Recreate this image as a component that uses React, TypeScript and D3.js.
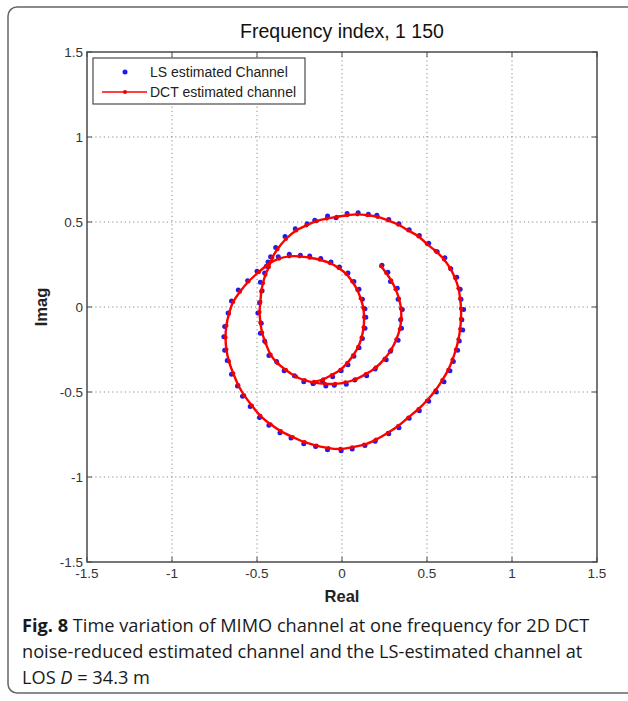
import React from "react";
import * as d3 from "d3";

const titleText = "Frequency index, 1 150";
const xLabel = "Real";
const yLabel = "Imag";
const tickValues = [-1.5, -1, -0.5, 0, 0.5, 1, 1.5];
const tickLabels = ["-1.5", "-1", "-0.5", "0", "0.5", "1", "1.5"];
const gridValues = [-1, -0.5, 0, 0.5, 1];
const legendLabels = ["LS estimated Channel", "DCT estimated channel"];

// DCT noise-reduced channel (Real, Imag) in time order
const dctPoints: [number, number][] = [
  [0.23, 0.24], [0.26, 0.2], [0.29, 0.155], [0.315, 0.105], [0.335, 0.05], [0.347, -0.01],
  [0.348, -0.07], [0.34, -0.13], [0.32, -0.19], [0.29, -0.25], [0.25, -0.305], [0.2, -0.355],
  [0.14, -0.395], [0.08, -0.425], [0.02, -0.443], [-0.04, -0.452], [-0.1, -0.452], [-0.16, -0.445],
  [-0.22, -0.43], [-0.27, -0.41], [-0.33, -0.37], [-0.38, -0.33], [-0.42, -0.28], [-0.45, -0.21],
  [-0.47, -0.15], [-0.48, -0.09], [-0.485, -0.03], [-0.48, 0.03], [-0.475, 0.09], [-0.465, 0.14],
  [-0.45, 0.19], [-0.43, 0.235], [-0.41, 0.29], [-0.38, 0.34], [-0.33, 0.4], [-0.27, 0.45],
  [-0.21, 0.48], [-0.15, 0.505], [-0.09, 0.52], [-0.03, 0.53], [0.03, 0.54], [0.09, 0.545],
  [0.15, 0.54], [0.21, 0.53], [0.27, 0.51], [0.33, 0.485], [0.39, 0.45], [0.45, 0.415],
  [0.5, 0.37], [0.55, 0.33], [0.6, 0.28], [0.635, 0.23], [0.665, 0.17], [0.685, 0.11],
  [0.695, 0.05], [0.7, -0.01], [0.7, -0.07], [0.695, -0.13], [0.685, -0.19], [0.67, -0.25],
  [0.65, -0.31], [0.625, -0.37], [0.59, -0.43], [0.55, -0.49], [0.5, -0.55], [0.45, -0.6],
  [0.39, -0.65], [0.33, -0.7], [0.27, -0.74], [0.2, -0.78], [0.13, -0.81], [0.06, -0.825],
  [-0.01, -0.835], [-0.08, -0.83], [-0.15, -0.815], [-0.22, -0.795], [-0.29, -0.765], [-0.36, -0.73],
  [-0.42, -0.69], [-0.48, -0.64], [-0.53, -0.58], [-0.575, -0.52], [-0.61, -0.46], [-0.64, -0.39],
  [-0.665, -0.32], [-0.68, -0.25], [-0.685, -0.18], [-0.68, -0.11], [-0.665, -0.04], [-0.64, 0.03],
  [-0.6, 0.09], [-0.55, 0.15], [-0.49, 0.205], [-0.43, 0.255], [-0.37, 0.285], [-0.31, 0.298],
  [-0.25, 0.298], [-0.19, 0.29], [-0.13, 0.278], [-0.07, 0.258], [-0.02, 0.23], [0.025, 0.195],
  [0.06, 0.15], [0.09, 0.1], [0.11, 0.05], [0.125, -0.005], [0.13, -0.06], [0.127, -0.12],
  [0.115, -0.18], [0.095, -0.235], [0.065, -0.285], [0.03, -0.33], [-0.01, -0.37], [-0.06, -0.4],
  [-0.11, -0.425], [-0.165, -0.44],
];

// LS estimated channel (Real, Imag) in time order
const lsPoints: [number, number][] = [
  [0.235, 0.245], [0.27, 0.205], [0.285, 0.15], [0.325, 0.11], [0.33, 0.045], [0.355, -0.015],
  [0.345, -0.075], [0.35, -0.125], [0.33, -0.195], [0.285, -0.26], [0.26, -0.31], [0.195, -0.365],
  [0.145, -0.405], [0.075, -0.43], [0.025, -0.455], [-0.045, -0.46], [-0.095, -0.465], [-0.17, -0.45],
  [-0.225, -0.44], [-0.28, -0.405], [-0.34, -0.375], [-0.385, -0.32], [-0.43, -0.285], [-0.455, -0.2],
  [-0.48, -0.155], [-0.475, -0.095], [-0.495, -0.035], [-0.485, 0.025], [-0.47, 0.095], [-0.48, 0.145],
  [-0.455, 0.2], [-0.445, 0.24], [-0.42, 0.295], [-0.39, 0.35], [-0.335, 0.415], [-0.275, 0.46],
  [-0.205, 0.49], [-0.16, 0.51], [-0.085, 0.535], [-0.035, 0.525], [0.03, 0.55], [0.095, 0.555],
  [0.155, 0.545], [0.205, 0.54], [0.275, 0.515], [0.335, 0.49], [0.395, 0.455], [0.455, 0.42],
  [0.51, 0.375], [0.56, 0.325], [0.605, 0.29], [0.64, 0.225], [0.675, 0.175], [0.695, 0.105],
  [0.7, 0.045], [0.715, -0.015], [0.705, -0.075], [0.71, -0.135], [0.69, -0.2], [0.68, -0.255],
  [0.655, -0.32], [0.635, -0.375], [0.6, -0.44], [0.555, -0.5], [0.51, -0.555], [0.455, -0.61],
  [0.395, -0.655], [0.335, -0.71], [0.275, -0.745], [0.195, -0.79], [0.135, -0.815], [0.06, -0.835],
  [-0.005, -0.845], [-0.085, -0.84], [-0.155, -0.82], [-0.225, -0.805], [-0.3, -0.77], [-0.365, -0.74],
  [-0.43, -0.695], [-0.485, -0.65], [-0.54, -0.585], [-0.585, -0.525], [-0.615, -0.465], [-0.65, -0.395],
  [-0.675, -0.315], [-0.69, -0.255], [-0.695, -0.175], [-0.69, -0.115], [-0.67, -0.035], [-0.65, 0.035],
  [-0.61, 0.1], [-0.555, 0.155], [-0.5, 0.21], [-0.435, 0.265], [-0.375, 0.295], [-0.31, 0.31],
  [-0.245, 0.305], [-0.19, 0.3], [-0.125, 0.285], [-0.065, 0.265], [-0.015, 0.235], [0.035, 0.2],
  [0.07, 0.15], [0.1, 0.105], [0.12, 0.045], [0.135, -0.01], [0.14, -0.06], [0.135, -0.125],
  [0.12, -0.185], [0.1, -0.24], [0.07, -0.29], [0.035, -0.34], [-0.005, -0.375], [-0.055, -0.41],
  [-0.115, -0.435], [-0.17, -0.45],
];

const W = 628;
const H = 701;
const left = 87, right = 597, top = 52, bottom = 562;
const axisFont = "'Liberation Sans', Arial, Helvetica, sans-serif";
const captionFont = "'Open Sans', 'Noto Sans', sans-serif";

export default function App() {
  const x = d3.scaleLinear().domain([-1.5, 1.5]).range([left, right]);
  const y = d3.scaleLinear().domain([-1.5, 1.5]).range([bottom, top]);
  const line = d3
    .line<[number, number]>()
    .x((d) => x(d[0]))
    .y((d) => y(d[1]))
    .curve(d3.curveCatmullRom.alpha(0.5));
  const cx = (left + right) / 2;
  const axisColor = "#4a4a4a";
  const tickLen = 5;

  return (
    <svg
      width={W}
      height={H}
      viewBox={`0 0 ${W} ${H}`}
      style={{ position: "absolute", left: 0, top: 0, display: "block", background: "#fff" }}
    >
      <rect x={8} y={7} width={660} height={686} rx={9} fill="#fff" stroke="#666" strokeWidth={1.5} />

      <text x={cx} y={38} textAnchor="middle" fontFamily={axisFont} fontSize={19.5} fill="#111">
        {titleText}
      </text>

      <rect x={left} y={top} width={right - left} height={bottom - top} fill="#fff" />

      {gridValues.map((v) => (
        <g key={"g" + v}>
          <line x1={x(v)} x2={x(v)} y1={top} y2={bottom} stroke="#8a8a8a" strokeWidth={1} strokeDasharray="1.2,3" />
          <line x1={left} x2={right} y1={y(v)} y2={y(v)} stroke="#8a8a8a" strokeWidth={1} strokeDasharray="1.2,3" />
        </g>
      ))}

      {tickValues.map((v) => (
        <g key={"t" + v}>
          <line x1={x(v)} x2={x(v)} y1={bottom} y2={bottom - tickLen} stroke={axisColor} strokeWidth={1} />
          <line x1={x(v)} x2={x(v)} y1={top} y2={top + tickLen} stroke={axisColor} strokeWidth={1} />
          <line x1={left} x2={left + tickLen} y1={y(v)} y2={y(v)} stroke={axisColor} strokeWidth={1} />
          <line x1={right} x2={right - tickLen} y1={y(v)} y2={y(v)} stroke={axisColor} strokeWidth={1} />
        </g>
      ))}

      {lsPoints.map((d, i) => (
        <circle key={"ls" + i} cx={x(d[0])} cy={y(d[1])} r={2.5} fill="#1c1cf0" />
      ))}

      <path d={line(dctPoints) || ""} fill="none" stroke="#ff0000" strokeWidth={2.4} />
      {dctPoints.map((d, i) => (
        <circle key={"dct" + i} cx={x(d[0])} cy={y(d[1])} r={2.1} fill="#f00000" />
      ))}

      <rect x={left} y={top} width={right - left} height={bottom - top} fill="none" stroke={axisColor} strokeWidth={1.5} />

      {tickValues.map((v, i) => (
        <text key={"yl" + v} x={left - 4} y={y(v) + 4.5} textAnchor="end" fontFamily={axisFont} fontSize={13.5} fill="#333">
          {tickLabels[i]}
        </text>
      ))}
      {tickValues.map((v, i) => (
        <text key={"xl" + v} x={x(v)} y={578} textAnchor="middle" fontFamily={axisFont} fontSize={13.5} fill="#333">
          {tickLabels[i]}
        </text>
      ))}

      <text x={cx} y={602} textAnchor="middle" fontFamily={axisFont} fontSize={16.5} fontWeight="bold" fill="#222">
        {xLabel}
      </text>
      <text
        transform={`translate(47, ${(top + bottom) / 2}) rotate(-90)`}
        textAnchor="middle"
        fontFamily={axisFont}
        fontSize={16.5}
        fontWeight="bold"
        fill="#222"
      >
        {yLabel}
      </text>

      <g>
        <rect x={93} y={58} width={212} height={46} fill="#fff" stroke={axisColor} strokeWidth={1.2} />
        <circle cx={125} cy={72} r={2.5} fill="#1c1cf0" />
        <text x={150} y={77} fontFamily={axisFont} fontSize={14} fill="#222">
          {legendLabels[0]}
        </text>
        <line x1={102} x2={147} y1={92} y2={92} stroke="#ff0000" strokeWidth={1.6} />
        <circle cx={125} cy={92} r={2} fill="#f00000" />
        <text x={150} y={97} fontFamily={axisFont} fontSize={14} fill="#222">
          {legendLabels[1]}
        </text>
      </g>

      <g fontFamily={captionFont} fontSize={18.2} fill="#1a1a1a">
        <text x={22} y={632}>
          <tspan fontWeight="bold">Fig. 8</tspan>
          <tspan> Time variation of MIMO channel at one frequency for 2D DCT</tspan>
        </text>
        <text x={22} y={658}>noise-reduced estimated channel and the LS-estimated channel at</text>
        <text x={22} y={684}>
          <tspan>LOS </tspan>
          <tspan fontStyle="italic">D</tspan>
          <tspan> = 34.3 m</tspan>
        </text>
      </g>
    </svg>
  );
}
